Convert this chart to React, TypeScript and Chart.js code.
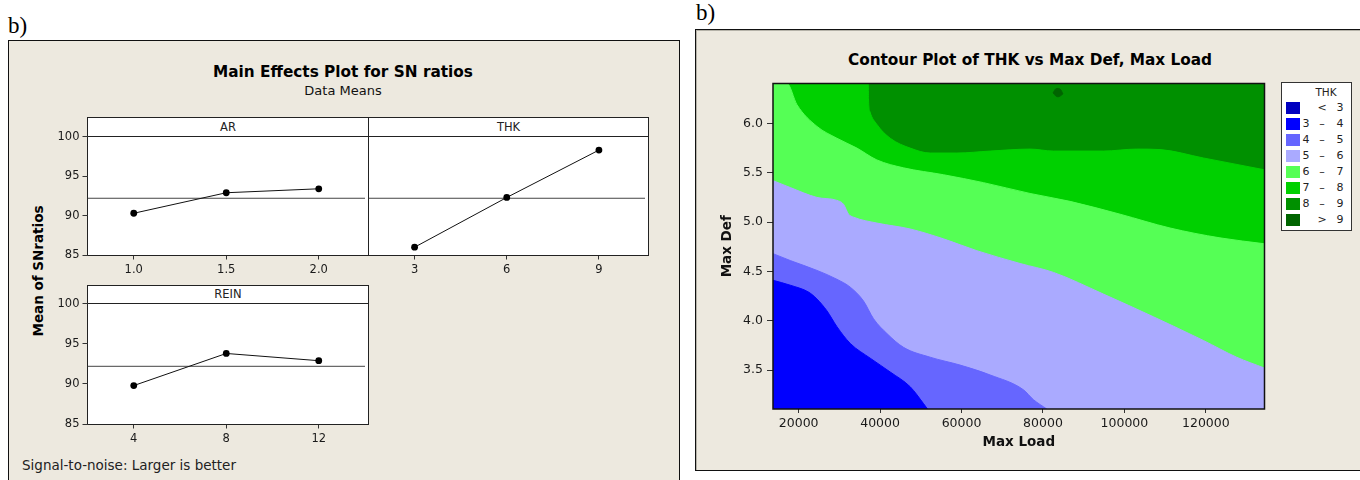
import React, { useEffect, useRef } from "react";
import { Chart, registerables } from "chart.js";

Chart.register(...registerables);

const FONT = '"DejaVu Sans", Verdana, sans-serif';
const SERIF = '"Liberation Serif", "Times New Roman", serif';
const PANEL_BG = "#EDE9DF";

// ---------- Main effects plot for SN ratios ----------
const AR_LEVELS = [1.0, 1.5, 2.0];
const AR_SN = [90.3, 92.9, 93.4];
const THK_LEVELS = [3, 6, 9];
const THK_SN = [86.0, 92.3, 98.3];
const REIN_LEVELS = [4, 8, 12];
const REIN_SN = [89.8, 93.8, 92.9];
const GRAND_MEAN = 92.2;
const SN_TICKS = [85, 90, 95, 100];
const SN_MIN = 84.95;
const SN_MAX = 100.15;

// ---------- Contour plot of THK vs Max Def, Max Load ----------
const LOAD_MIN = 13700;
const LOAD_MAX = 134400;
const DEF_MIN = 3.105;
const DEF_MAX = 6.405;
const LOAD_TICKS = [20000, 40000, 60000, 80000, 100000, 120000];
const DEF_TICKS = [3.5, 4.0, 4.5, 5.0, 5.5, 6.0];

// contour line THK = 4
const C4_LOAD = [13700, 17950, 22440, 24500, 26950, 29400, 32670, 37580, 42490, 47400, 50660, 51640];
const C4_DEF = [4.41, 4.36, 4.29, 4.22, 4.1, 3.94, 3.77, 3.62, 3.48, 3.33, 3.16, 3.105];
// contour line THK = 5
const C5_LOAD = [13700, 17950, 24500, 29400, 32670, 35930, 38390, 41680, 45750, 52300, 59660, 67030, 75200, 77650, 80940];
const C5_DEF = [4.68, 4.61, 4.51, 4.42, 4.34, 4.2, 4.02, 3.87, 3.73, 3.63, 3.55, 3.45, 3.3, 3.2, 3.105];
// contour line THK = 6
const C6_LOAD = [13700, 17950, 24500, 29400, 31030, 32250, 33480, 39220, 47390, 55570, 63760, 74390, 82560, 94840, 107110, 119380, 127560, 134400];
const C6_DEF = [5.42, 5.35, 5.25, 5.22, 5.18, 5.08, 5.05, 4.99, 4.93, 4.83, 4.71, 4.58, 4.49, 4.27, 4.04, 3.8, 3.63, 3.52];
// contour line THK = 7
const C7_LOAD = [13700, 17140, 19590, 24500, 29400, 34310, 39220, 45750, 55570, 65380, 76840, 86650, 98930, 111200, 123470, 134400];
const C7_DEF = [6.405, 6.405, 6.19, 5.97, 5.85, 5.75, 5.63, 5.55, 5.48, 5.4, 5.29, 5.21, 5.08, 4.94, 4.84, 4.78];
// contour line THK = 8
const C8_LOAD = [13700, 37100, 37150, 37500, 39220, 42490, 47400, 52300, 58850, 67030, 76840, 82560, 94840, 103020, 108740, 119380, 134400];
const C8_DEF = [6.405, 6.405, 6.25, 6.12, 5.99, 5.85, 5.75, 5.7, 5.7, 5.72, 5.74, 5.72, 5.72, 5.74, 5.735, 5.65, 5.53];
// small island THK > 9
const C9_LOAD = [82500, 83100, 83700, 84300, 84900];
const C9_DEF_TOP = [6.31, 6.35, 6.355, 6.345, 6.3];
const C9_DEF_BOTTOM = [6.31, 6.28, 6.27, 6.28, 6.3];

const BAND_COLORS = ["#0000C0", "#0000FF", "#6666FF", "#AAAAFF", "#55FF55", "#00D000", "#009000", "#006400"];
const LEGEND_LO = ["", "3", "4", "5", "6", "7", "8", ""];
const LEGEND_MID = ["<", "–", "–", "–", "–", "–", "–", ">"];
const LEGEND_HI = ["3", "4", "5", "6", "7", "8", "9", "9"];

function pts(xs: number[], ys: number[]) {
  return xs.map((x, i) => ({ x, y: ys[i] }));
}

function effectsConfig(
  levels: number[],
  values: number[],
  xMin: number,
  xMax: number,
  fmt: (v: number) => string,
  showY: boolean,
  padLeft: number,
  yWidth: number,
  xHeight: number
): any {
  return {
    type: "line",
    data: {
      datasets: [
        {
          data: pts(levels, values),
          borderColor: "#111",
          borderWidth: 1,
          pointRadius: 3.4,
          pointBackgroundColor: "#000",
          pointBorderColor: "#000",
          pointBorderWidth: 0,
          fill: false,
          tension: 0,
          order: 0,
        },
        {
          data: [
            { x: xMin, y: GRAND_MEAN },
            { x: xMax, y: GRAND_MEAN },
          ],
          borderColor: "#444",
          borderWidth: 1,
          pointRadius: 0,
          fill: false,
          order: 1,
        },
      ],
    },
    options: {
      animation: false,
      responsive: false,
      events: [],
      layout: { padding: { top: 10.5, right: 0.5, left: padLeft, bottom: 0 } },
      plugins: { legend: { display: false }, tooltip: { enabled: false } },
      scales: {
        x: {
          type: "linear",
          min: xMin,
          max: xMax,
          afterBuildTicks: (s: any) => {
            s.ticks = levels.map((v) => ({ value: v }));
          },
          afterFit: (s: any) => {
            s.height = xHeight;
          },
          ticks: {
            callback: (v: any) => fmt(Number(v)),
            color: "#1a1a1a",
            font: { family: FONT, size: 11.5 },
            padding: 4,
            maxRotation: 0,
            autoSkip: false,
          },
          grid: { drawOnChartArea: false, drawTicks: true, tickLength: 4, color: "#333" },
          border: { display: false },
        },
        y: {
          type: "linear",
          display: showY,
          min: SN_MIN,
          max: SN_MAX,
          afterBuildTicks: (s: any) => {
            s.ticks = SN_TICKS.map((v) => ({ value: v }));
          },
          afterFit: (s: any) => {
            s.width = yWidth;
          },
          ticks: { color: "#1a1a1a", font: { family: FONT, size: 11.5 }, padding: 3 },
          grid: { drawOnChartArea: false, drawTicks: true, tickLength: 5, color: "#333" },
          border: { display: false },
        },
      },
    },
  };
}

const framePlugin = {
  id: "frame",
  afterDatasetsDraw(chart: any) {
    const { ctx, chartArea: a } = chart;
    ctx.save();
    ctx.strokeStyle = "#111";
    ctx.lineWidth = 1.5;
    ctx.strokeRect(a.left, a.top, a.right - a.left, a.bottom - a.top);
    ctx.restore();
  },
};

function band(xs: number[], ys: number[], color: string, order: number, fill: any = "start") {
  return {
    data: pts(xs, ys),
    fill,
    backgroundColor: color,
    borderColor: color,
    borderWidth: 1,
    pointRadius: 0,
    cubicInterpolationMode: "monotone",
    order,
  };
}

function contourConfig(): any {
  return {
    type: "line",
    data: {
      datasets: [
        band([LOAD_MIN, LOAD_MAX], [DEF_MAX, DEF_MAX], BAND_COLORS[6], 10),
        band(C8_LOAD, C8_DEF, BAND_COLORS[5], 9),
        band(C7_LOAD, C7_DEF, BAND_COLORS[4], 8),
        band(C6_LOAD, C6_DEF, BAND_COLORS[3], 7),
        band(C5_LOAD, C5_DEF, BAND_COLORS[2], 6),
        band(C4_LOAD, C4_DEF, BAND_COLORS[1], 5),
        band(C9_LOAD, C9_DEF_TOP, BAND_COLORS[7], 4, "+1"),
        band(C9_LOAD, C9_DEF_BOTTOM, BAND_COLORS[7], 3, false),
      ],
    },
    options: {
      animation: false,
      responsive: false,
      events: [],
      layout: { padding: { top: 10, right: 5.5, left: 0, bottom: 0 } },
      plugins: { legend: { display: false }, tooltip: { enabled: false } },
      scales: {
        x: {
          type: "linear",
          min: LOAD_MIN,
          max: LOAD_MAX,
          afterBuildTicks: (s: any) => {
            s.ticks = LOAD_TICKS.map((v) => ({ value: v }));
          },
          afterFit: (s: any) => {
            s.height = 56;
          },
          ticks: {
            callback: (v: any) => String(v),
            color: "#1a1a1a",
            font: { family: FONT, size: 12.5 },
            padding: 3,
            maxRotation: 0,
            autoSkip: false,
          },
          grid: { drawOnChartArea: false, drawTicks: true, tickLength: 4, color: "#333" },
          border: { display: false },
          title: {
            display: true,
            text: "Max Load",
            color: "#111",
            font: { family: FONT, size: 13.5, weight: "bold" },
            padding: { top: 2, bottom: 14 },
          },
        },
        y: {
          type: "linear",
          min: DEF_MIN,
          max: DEF_MAX,
          afterBuildTicks: (s: any) => {
            s.ticks = DEF_TICKS.map((v) => ({ value: v }));
          },
          afterFit: (s: any) => {
            s.width = 73;
          },
          ticks: {
            callback: (v: any) => Number(v).toFixed(1),
            color: "#1a1a1a",
            font: { family: FONT, size: 12.5 },
            padding: 4,
          },
          grid: { drawOnChartArea: false, drawTicks: true, tickLength: 6, color: "#333" },
          border: { display: false },
          title: {
            display: true,
            text: "Max Def",
            color: "#111",
            font: { family: FONT, size: 13.5, weight: "bold" },
            padding: { top: 19, bottom: 2 },
          },
        },
      },
    },
    plugins: [framePlugin],
  };
}

function ChartCanvas(props: { make: () => any; left: number; top: number; width: number; height: number }) {
  const ref = useRef<HTMLCanvasElement>(null);
  useEffect(() => {
    const chart = new Chart(ref.current as HTMLCanvasElement, props.make());
    return () => chart.destroy();
  }, []);
  return (
    <canvas
      ref={ref}
      width={props.width}
      height={props.height}
      style={{ position: "absolute", left: props.left, top: props.top, width: props.width, height: props.height }}
    />
  );
}

function Label(props: {
  x: number;
  y: number;
  size: number;
  bold?: boolean;
  rotate?: boolean;
  align?: "left" | "center";
  family?: string;
  color?: string;
  children: React.ReactNode;
}) {
  const tx = props.align === "left" ? "0" : "-50%";
  return (
    <div
      style={{
        position: "absolute",
        left: props.x,
        top: props.y,
        transform: `translate(${tx}, -50%)${props.rotate ? " rotate(-90deg)" : ""}`,
        fontFamily: props.family || FONT,
        fontSize: props.size,
        fontWeight: props.bold ? "bold" : "normal",
        color: props.color || "#111",
        whiteSpace: "nowrap",
        lineHeight: 1.2,
      }}
    >
      {props.children}
    </div>
  );
}

function Strip(props: { left: number; top: number; width: number; height: number; strip: number; label: string }) {
  return (
    <div
      style={{
        position: "absolute",
        left: props.left,
        top: props.top,
        width: props.width,
        height: props.height,
        boxSizing: "border-box",
        border: "1px solid #222",
        background: "#fff",
      }}
    >
      <div
        style={{
          height: props.strip,
          boxSizing: "border-box",
          borderBottom: "1px solid #222",
          textAlign: "center",
          fontFamily: FONT,
          fontSize: 11.5,
          lineHeight: `${props.strip - 1}px`,
          color: "#222",
        }}
      >
        {props.label}
      </div>
    </div>
  );
}

export default function App() {
  return (
    <div
      style={{
        position: "absolute",
        left: 0,
        top: 0,
        width: 1360,
        height: 480,
        overflow: "hidden",
        background: "#fff",
      }}
    >
      {/* left figure */}
      <Label x={8} y={26} size={23} family={SERIF} align="left" color="#000">
        b)
      </Label>
      <div
        style={{
          position: "absolute",
          left: 8,
          top: 40,
          width: 672,
          height: 470,
          boxSizing: "border-box",
          border: "1px solid #111",
          background: PANEL_BG,
        }}
      />
      <Label x={343} y={72} size={15.3} bold color="#000">
        Main Effects Plot for SN ratios
      </Label>
      <Label x={343} y={91} size={13}>
        Data Means
      </Label>
      <Label x={38} y={271} size={13.5} bold rotate color="#000">
        Mean of SNratios
      </Label>
      <Label x={22} y={465} size={13.5} align="left" color="#222">
        Signal-to-noise: Larger is better
      </Label>

      <Strip left={87} top={117} width={282} height={139} strip={19} label="AR" />
      <Strip left={368} top={117} width={281} height={139} strip={19} label="THK" />
      <Strip left={87} top={285} width={282} height={140} strip={18} label="REIN" />

      <ChartCanvas
        left={40}
        top={125}
        width={329}
        height={160}
        make={() => effectsConfig(AR_LEVELS, AR_SN, 0.75, 2.25, (v) => v.toFixed(1), true, 0, 47.5, 29.5)}
      />
      <ChartCanvas
        left={360}
        top={125}
        width={289}
        height={160}
        make={() => effectsConfig(THK_LEVELS, THK_SN, 1.5, 10.5, (v) => String(v), false, 8.5, 0, 29.5)}
      />
      <ChartCanvas
        left={40}
        top={292}
        width={329}
        height={163}
        make={() => effectsConfig(REIN_LEVELS, REIN_SN, 2, 14, (v) => String(v), true, 0, 47.5, 30.5)}
      />

      {/* right figure */}
      <Label x={696} y={13} size={23} family={SERIF} align="left" color="#000">
        b)
      </Label>
      <div
        style={{
          position: "absolute",
          left: 695,
          top: 29,
          width: 700,
          height: 442,
          boxSizing: "border-box",
          border: "1px solid #111",
          boxShadow: "inset 1px 1px 0 #b5b2a8",
          background: PANEL_BG,
        }}
      />
      <Label x={1030} y={60} size={15.3} bold color="#000">
        Contour Plot of THK vs Max Def, Max Load
      </Label>
      <ChartCanvas left={700} top={72} width={1270 - 700} height={393} make={contourConfig} />

      <div
        style={{
          position: "absolute",
          left: 1281,
          top: 82,
          width: 71,
          height: 149,
          boxSizing: "border-box",
          border: "1px solid #333",
          background: "#fff",
        }}
      />
      <Label x={1326} y={92} size={10.5} color="#222">
        THK
      </Label>
      {BAND_COLORS.map((c, i) => (
        <React.Fragment key={i}>
          <div
            style={{
              position: "absolute",
              left: 1286,
              top: 102 + i * 16,
              width: 14,
              height: 12,
              background: c,
            }}
          />
          <Label x={1306} y={108 + i * 16} size={11} color="#222">
            {LEGEND_LO[i]}
          </Label>
          <Label x={1322} y={108 + i * 16} size={11} color="#222">
            {LEGEND_MID[i]}
          </Label>
          <Label x={1340} y={108 + i * 16} size={11} color="#222">
            {LEGEND_HI[i]}
          </Label>
        </React.Fragment>
      ))}
    </div>
  );
}
